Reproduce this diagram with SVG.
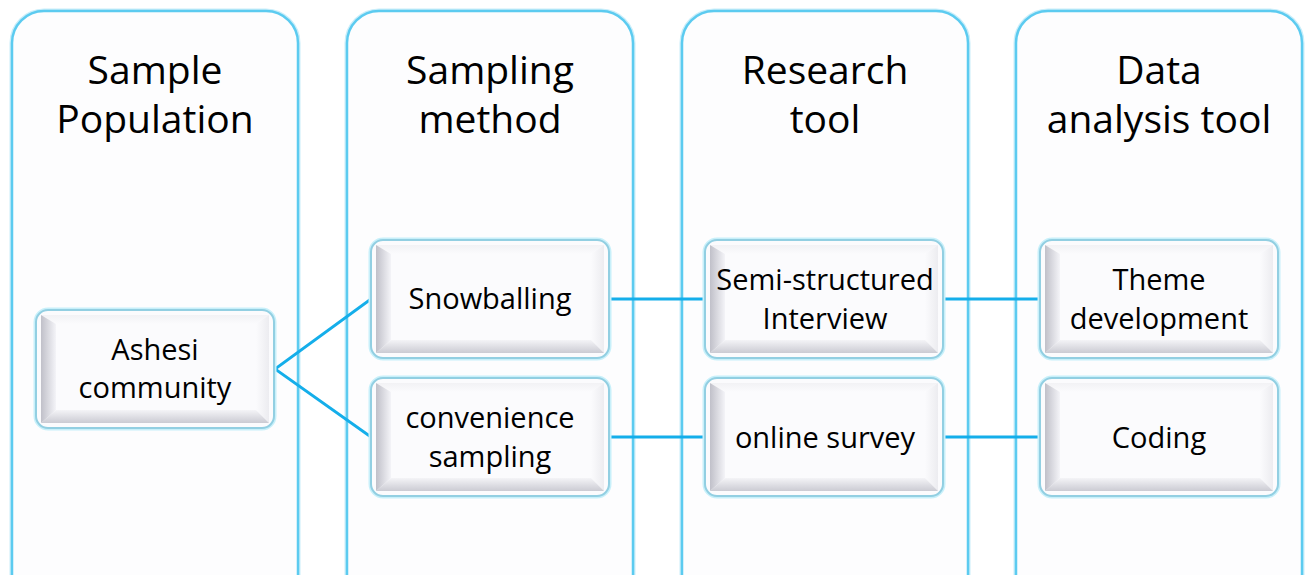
<svg xmlns="http://www.w3.org/2000/svg" width="1308" height="575" viewBox="0 0 1308 575">
<defs>
<style>
.col{fill:#fdfdfe;stroke:#5ccbf0;stroke-width:2.5}
.colglow{fill:none;stroke:#c9eefa;stroke-width:5}
.hdr{font-family:"Open Sans","Liberation Sans",sans-serif;font-size:39px;fill:#000;text-anchor:middle}
.lbl{font-family:"Open Sans","Liberation Sans",sans-serif;font-size:29px;fill:#000;text-anchor:middle}
.boxglow{fill:none;stroke:#c8f0fa;stroke-width:5}
.box{fill:#fbfbfd;stroke:#92cfe2;stroke-width:2}
.bl{fill:url(#gl)}
.bb{fill:url(#gb)}
.bt{fill:url(#gt)}
.br{fill:url(#gr)}
.conn{fill:none;stroke:#14aeea;stroke-width:2.8}
</style>
<linearGradient id="gl" x1="0" y1="0" x2="1" y2="0"><stop offset="0" stop-color="#c0c0c9"/><stop offset="1" stop-color="#f4f4f8"/></linearGradient>
<linearGradient id="gb" x1="0" y1="1" x2="0" y2="0"><stop offset="0" stop-color="#cbcbd3"/><stop offset="1" stop-color="#f4f4f7"/></linearGradient>
<linearGradient id="gt" x1="0" y1="0" x2="0" y2="1"><stop offset="0" stop-color="#f2f2f5"/><stop offset="1" stop-color="#fbfbfd"/></linearGradient>
<linearGradient id="gr" x1="1" y1="0" x2="0" y2="0"><stop offset="0" stop-color="#ececf0"/><stop offset="1" stop-color="#fbfbfd"/></linearGradient>
<g id="bevel">
<rect class="boxglow" x="0" y="0" width="238" height="118" rx="12"/>
<rect class="box" x="0" y="0" width="238" height="118" rx="12"/>
<polygon class="bt" points="5,5 233,5 220,14 20,14"/>
<polygon class="br" points="233,5 233,113 220,100 220,14"/>
<polygon class="bb" points="5,113 233,113 220,100 20,100"/>
<polygon class="bl" points="5,5 20,14 20,100 5,113"/>
<rect x="20" y="14" width="200" height="86" fill="#fbfbfd"/>
</g>
</defs>
<rect width="1308" height="575" fill="#ffffff"/>
<g id="col-sample-population">
<rect class="colglow" x="12" y="11" width="286" height="600" rx="32"/>
<rect class="col" x="12" y="11" width="286" height="600" rx="32"/>
<text class="hdr" x="155" y="84">Sample</text>
<text class="hdr" x="155" y="133">Population</text>
</g>
<g id="col-sampling-method">
<rect class="colglow" x="347" y="11" width="286" height="600" rx="32"/>
<rect class="col" x="347" y="11" width="286" height="600" rx="32"/>
<text class="hdr" x="490" y="84">Sampling</text>
<text class="hdr" x="490" y="133">method</text>
</g>
<g id="col-research-tool">
<rect class="colglow" x="682" y="11" width="286" height="600" rx="32"/>
<rect class="col" x="682" y="11" width="286" height="600" rx="32"/>
<text class="hdr" x="825" y="84">Research</text>
<text class="hdr" x="825" y="133">tool</text>
</g>
<g id="col-data-analysis-tool">
<rect class="colglow" x="1016" y="11" width="286" height="600" rx="32"/>
<rect class="col" x="1016" y="11" width="286" height="600" rx="32"/>
<text class="hdr" x="1159" y="84">Data</text>
<text class="hdr" x="1159" y="133">analysis tool</text>
</g>
<g id="connectors">
<polyline class="conn" points="371,299 275,369 371,437"/>
<line class="conn" x1="609" y1="299" x2="705" y2="299"/>
<line class="conn" x1="609" y1="437" x2="705" y2="437"/>
<line class="conn" x1="943" y1="299" x2="1040" y2="299"/>
<line class="conn" x1="943" y1="437" x2="1040" y2="437"/>
</g>
<g id="node-ashesi">
<use href="#bevel" x="36" y="310"/>
<text class="lbl" x="155" y="360">Ashesi</text>
<text class="lbl" x="155" y="398">community</text>
</g>
<g id="node-snowballing">
<use href="#bevel" x="371" y="240"/>
<text class="lbl" x="490" y="309">Snowballing</text>
</g>
<g id="node-convenience">
<use href="#bevel" x="371" y="378"/>
<text class="lbl" x="490" y="428">convenience</text>
<text class="lbl" x="490" y="467">sampling</text>
</g>
<g id="node-semi-structured">
<use href="#bevel" x="705" y="240"/>
<text class="lbl" x="825" y="290">Semi-structured</text>
<text class="lbl" x="825" y="329">Interview</text>
</g>
<g id="node-online-survey">
<use href="#bevel" x="705" y="378"/>
<text class="lbl" x="825" y="448">online survey</text>
</g>
<g id="node-theme">
<use href="#bevel" x="1040" y="240"/>
<text class="lbl" x="1159" y="290">Theme</text>
<text class="lbl" x="1159" y="329">development</text>
</g>
<g id="node-coding">
<use href="#bevel" x="1040" y="378"/>
<text class="lbl" x="1159" y="448">Coding</text>
</g>
</svg>
